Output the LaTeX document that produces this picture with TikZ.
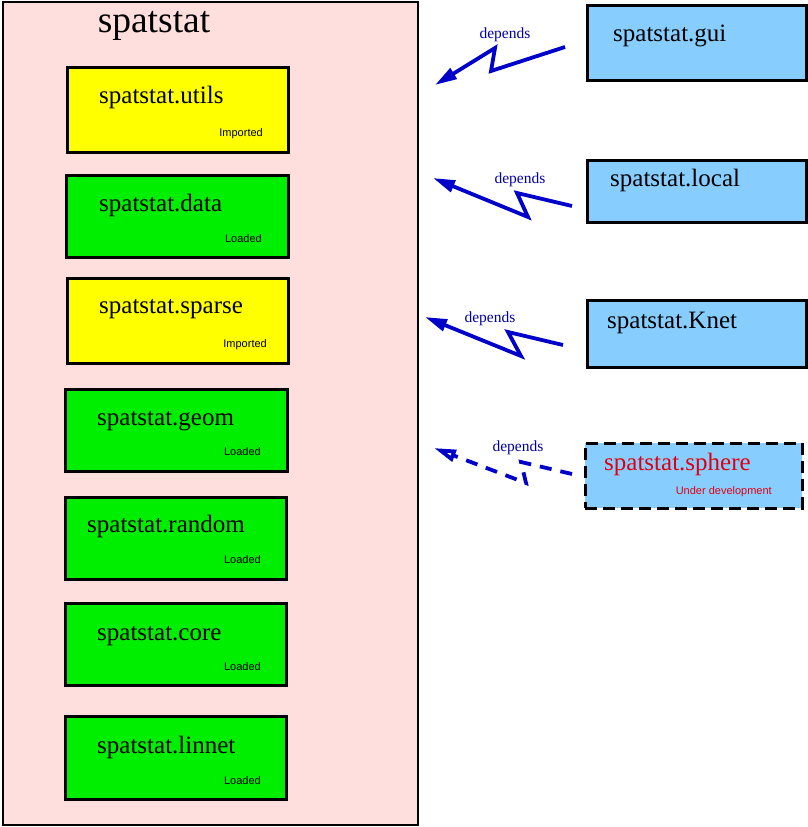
\documentclass[tikz,border=0pt]{standalone}
\usepackage{fontspec}
\setmainfont{Liberation Serif}
\newfontfamily\smallsans{Liberation Sans}
\usetikzlibrary{arrows.meta}
\definecolor{pinkbg}{HTML}{FFDEDE}
\definecolor{figgreen}{HTML}{00EE00}
\definecolor{figyellow}{HTML}{FFFF00}
\definecolor{figblue}{HTML}{87CEFF}
\definecolor{arrowblue}{HTML}{0000C8}
\definecolor{textblue}{HTML}{0000A0}
\definecolor{figred}{HTML}{E00010}
\tikzset{
  pbox/.style={draw=black, line width=3pt, inner sep=0pt, outer sep=0pt},
  biglabel/.style={font=\fontsize{25}{30}\selectfont, anchor=base west, inner sep=0pt},
  statlabel/.style={font=\smallsans\fontsize{11}{12}\selectfont, anchor=base east, inner sep=0pt},
  deplabel/.style={font=\fontsize{15.5}{18}\selectfont, text=textblue, inner sep=0pt},
  deparrow/.style={draw=arrowblue, line width=3.8pt, line join=miter, -{Triangle[length=22pt,width=12pt]}},
}
\begin{document}
\begin{tikzpicture}[x=1pt,y=-1pt]
\useasboundingbox (0,0) rectangle (808,827);
% outer box
\node[pbox, fill=pinkbg, line width=2.5pt, minimum width=415pt, minimum height=823pt] (outer) at (210.5,413.5) {};
\node[font=\fontsize{37.5}{42}\selectfont, anchor=base, inner sep=0pt] (title) at (154,32) {spatstat};
% inner boxes
\node[pbox, fill=figyellow, minimum width=221pt, minimum height=85pt] (utils) at (177.5,109.5) {};
\node[biglabel] (utilsT) at (99,103) {spatstat.utils};
\node[statlabel] (utilsS) at (263,136) {Imported};

\node[pbox, fill=figgreen, minimum width=222pt, minimum height=82pt] (data) at (177,216) {};
\node[biglabel] (dataT) at (99,211) {spatstat.data};
\node[statlabel] (dataS) at (262,242) {Loaded};

\node[pbox, fill=figyellow, minimum width=221pt, minimum height=85pt] (sparse) at (177.5,320.5) {};
\node[biglabel] (sparseT) at (99,313) {spatstat.sparse};
\node[statlabel] (sparseS) at (267,347) {Imported};

\node[pbox, fill=figgreen, minimum width=222pt, minimum height=82pt] (geom) at (176,430) {};
\node[biglabel] (geomT) at (97,425) {spatstat.geom};
\node[statlabel] (geomS) at (261,455) {Loaded};

\node[pbox, fill=figgreen, minimum width=221pt, minimum height=82pt] (random) at (175.5,538) {};
\node[biglabel] (randomT) at (87,532) {spatstat.random};
\node[statlabel] (randomS) at (261,563) {Loaded};

\node[pbox, fill=figgreen, minimum width=221pt, minimum height=82pt] (core) at (175.5,644) {};
\node[biglabel] (coreT) at (97,640) {spatstat.core};
\node[statlabel] (coreS) at (261,670) {Loaded};

\node[pbox, fill=figgreen, minimum width=221pt, minimum height=83pt] (linnet) at (175.5,757.5) {};
\node[biglabel] (linnetT) at (97,753) {spatstat.linnet};
\node[statlabel] (linnetS) at (261,784) {Loaded};

% right boxes
\node[pbox, fill=figblue, minimum width=219pt, minimum height=75pt] (gui) at (696.5,42.5) {};
\node[biglabel] (guiT) at (613,41) {spatstat.gui};

\node[pbox, fill=figblue, minimum width=219pt, minimum height=62pt] (local) at (696.5,191) {};
\node[biglabel] (localT) at (610,186) {spatstat.local};

\node[pbox, fill=figblue, minimum width=219pt, minimum height=67pt] (knet) at (696.5,333.5) {};
\node[biglabel] (knetT) at (607,328) {spatstat.Knet};

\node[pbox, fill=figblue, dash pattern=on 12pt off 6pt, minimum width=217pt, minimum height=65pt] (sphere) at (693.5,475.5) {};
\node[biglabel, text=figred] (sphereT) at (604,470) {spatstat.sphere};
\node[statlabel, text=figred] (sphereS) at (772,494) {Under development};

% arrows
\coordinate (g0) at (565,47); \coordinate (g1) at (491,71); \coordinate (g2) at (495,48); \coordinate (g3) at (435,85);
\draw[deparrow] (g0) -- (g1) -- (g2) -- (g3);
\node[deplabel] (gD) at (505,35) {depends};

\coordinate (l0) at (572,206); \coordinate (l1) at (517,193); \coordinate (l2) at (528,217); \coordinate (l3) at (433,178);
\draw[deparrow] (l0) -- (l1) -- (l2) -- (l3);
\node[deplabel] (lD) at (520,180) {depends};

\coordinate (k0) at (563,345); \coordinate (k1) at (508,332); \coordinate (k2) at (521,356); \coordinate (k3) at (425,317);
\draw[deparrow] (k0) -- (k1) -- (k2) -- (k3);
\node[deplabel] (kD) at (490,319) {depends};

\coordinate (s0) at (572,474); \coordinate (s1) at (521,462); \coordinate (s2) at (526,483); \coordinate (s3) at (434,448);
\draw[deparrow, -{Triangle[open,length=22pt,width=12pt]}, dash pattern=on 12pt off 9pt] (s0) -- (s1) -- (s2) -- (s3);
\node[deplabel] (sD) at (518,448) {depends};
\end{tikzpicture}
\end{document}
